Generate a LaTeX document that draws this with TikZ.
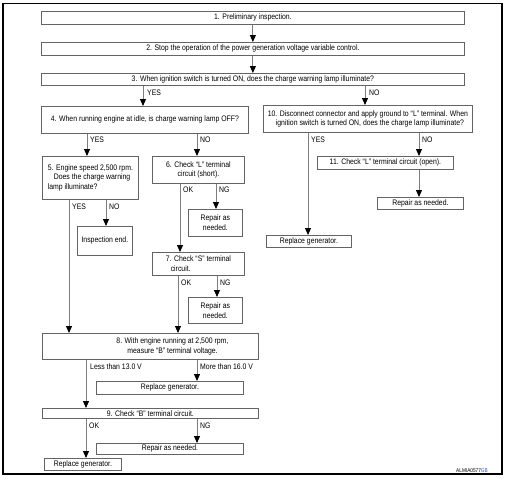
\documentclass[tikz,border=0pt]{standalone}
\usepackage{fontspec}
\setmainfont{Liberation Sans}[FakeStretch=0.86]
\usetikzlibrary{arrows.meta}
\definecolor{boxgray}{RGB}{100,100,100}
\definecolor{linegray}{RGB}{125,125,125}
\definecolor{codeblue}{RGB}{40,80,200}
\tikzset{
  box/.style={draw=boxgray, line width=0.8pt, inner sep=0pt, anchor=north west,
    font=\fontsize{8}{9.8}\selectfont},
  arr/.style={draw=linegray, line width=0.9pt,
    -{Triangle[length=7pt,width=6pt,color=black,fill=black]}},
  lbl/.style={anchor=west, inner sep=0pt, font=\fontsize{8}{9.8}\selectfont},
}
\begin{document}
\begin{tikzpicture}[x=1pt,y=-1pt]
\useasboundingbox (0,0) rectangle (507,479);
\draw[line width=1.2pt] (3,3.5) rectangle (502,474);

% boxes
\node[box, minimum width=423, minimum height=13] (b1) at (41,11) {1. Preliminary inspection.};
\node[box, minimum width=423, minimum height=13] (b2) at (41,42) {2. Stop the operation of the power generation voltage variable control.};
\node[box, minimum width=423, minimum height=12] (b3) at (41,73) {3. When ignition switch is turned ON, does the charge warning lamp illuminate?};
\node[box, minimum width=207, minimum height=27] (b4) at (41,106) {4. When running engine at idle, is charge warning lamp OFF?};
\node[box, minimum width=209, minimum height=27, align=left] (b10) at (263,105) {10. Disconnect connector and apply ground to ``L'' terminal. When\\\hspace*{8pt}ignition switch is turned ON, does the charge lamp illuminate?};
\node[box, minimum width=96, minimum height=43, align=left] (b5) at (42,156) {5. Engine speed 2,500 rpm.\\\hspace*{6pt}Does the charge warning\\lamp illuminate?};
\node[box, minimum width=92, minimum height=27, align=center] (b6) at (152,156) {6. Check ``L'' terminal\\circuit (short).};
\node[box, minimum width=55, minimum height=29] (end5) at (77,226) {Inspection end.};
\node[box, minimum width=54, minimum height=27, align=center] (r6) at (188,209) {Repair as\\needed.};
\node[box, minimum width=92, minimum height=23, align=left] (b7) at (152,252) {7. Check ``S'' terminal\\\hspace*{5pt}circuit.};
\node[box, minimum width=54, minimum height=26, align=center] (r7) at (188,297) {Repair as\\needed.};
\node[box, minimum width=216, minimum height=26, align=left] (b8) at (42,333) {\hspace*{44pt}8. With engine running at 2,500 rpm,\\\hspace*{55pt}measure ``B'' terminal voltage.};
\node[box, minimum width=147, minimum height=13] (g8) at (96,381) {Replace generator.};
\node[box, minimum width=216, minimum height=10] (b9) at (42,408) {9. Check ``B'' terminal circuit.};
\node[box, minimum width=147, minimum height=11] (r9) at (96,443) {Repair as needed.};
\node[box, minimum width=77, minimum height=12] (g9) at (44,458) {Replace generator.};
\node[box, minimum width=136, minimum height=13] (b11) at (317,156) {11. Check ``L'' terminal circuit (open).};
\node[box, minimum width=86, minimum height=12] (r11) at (377,197) {Repair as needed.};
\node[box, minimum width=85, minimum height=12] (g10) at (266,235) {Replace generator.};

% connectors
\draw[arr] (b1.south) -- (b2.north);
\draw[arr] (b2.south) -- (b3.north);
\draw[arr] (143,0 |- b3.south) -- (143,0 |- b4.north);
\node[lbl] (l3y) at (147,93) {YES};
\draw[arr] (365,0 |- b3.south) -- (365,0 |- b10.north);
\node[lbl] (l3n) at (369,93) {NO};

\draw[arr] (87,0 |- b4.south) -- (87,0 |- b5.north);
\node[lbl] (l4y) at (90,140) {YES};
\draw[arr] (197,0 |- b4.south) -- (197,0 |- b6.north);
\node[lbl] (l4n) at (200,140) {NO};

\draw[arr] (69,0 |- b5.south) -- (69,0 |- b8.north);
\node[lbl] (l5y) at (72,207) {YES};
\draw[arr] (106,0 |- b5.south) -- (106,0 |- end5.north);
\node[lbl] (l5n) at (109,207) {NO};

\draw[arr] (180,0 |- b6.south) -- (180,0 |- b7.north);
\node[lbl] (l6o) at (183,190) {OK};
\draw[arr] (216,0 |- b6.south) -- (216,0 |- r6.north);
\node[lbl] (l6n) at (219,190) {NG};

\draw[arr] (178,0 |- b7.south) -- (178,0 |- b8.north);
\node[lbl] (l7o) at (181,283) {OK};
\draw[arr] (217,0 |- b7.south) -- (217,0 |- r7.north);
\node[lbl] (l7n) at (220,283) {NG};

\draw[arr] (86,0 |- b8.south) -- (86,0 |- b9.north);
\node[lbl] (l8l) at (90,367) {Less than 13.0 V};
\draw[arr] (197,0 |- b8.south) -- (197,0 |- g8.north);
\node[lbl] (l8m) at (200,367) {More than 16.0 V};

\draw[arr] (86,0 |- b9.south) -- (86,0 |- g9.north);
\node[lbl] (l9o) at (89,426) {OK};
\draw[arr] (197,0 |- b9.south) -- (197,0 |- r9.north);
\node[lbl] (l9n) at (200,426) {NG};

\draw[arr] (308,0 |- b10.south) -- (308,0 |- g10.north);
\node[lbl] (l10y) at (311,140) {YES};
\draw[arr] (419,0 |- b10.south) -- (419,0 |- b11.north);
\node[lbl] (l10n) at (422,140) {NO};

\draw[arr] (419,0 |- b11.south) -- (419,0 |- r11.north);

\node[inner sep=0pt, font=\fontsize{5.5}{6}\selectfont] (code) at (472,470.5) {ALMIA0577\textcolor{codeblue}{GB}};
\end{tikzpicture}
\end{document}
